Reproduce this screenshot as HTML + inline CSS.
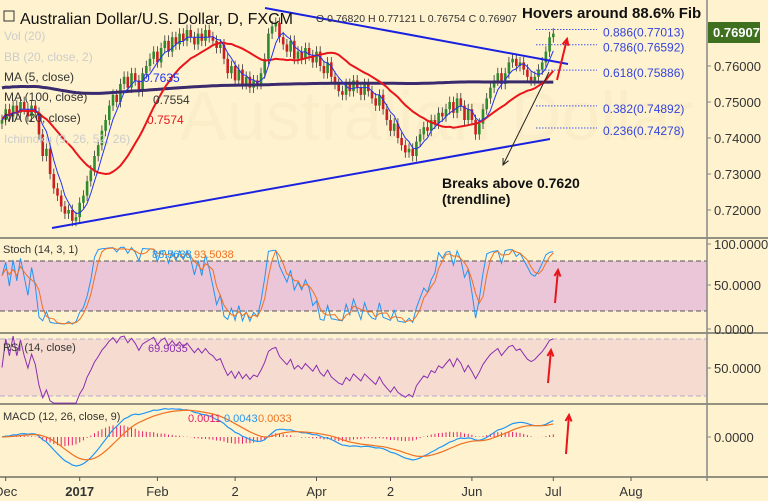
<!DOCTYPE html>
<html><head><meta charset="utf-8"><style>
body{margin:0;background:#fff3cf;}
svg{display:block;font-family:"Liberation Sans",sans-serif;}
</style></head><body>
<svg id="c" width="768" height="501" viewBox="0 0 768 501" xmlns="http://www.w3.org/2000/svg">
<rect width="768" height="501" fill="#fff3cf"/>
<text x="180" y="140" font-size="70" fill="#fbedc8">Australian Dollar</text>
<g id="bands"></g>
<g id="marks"></g>
<g id="anno"></g>
</svg>
<script>
const closes=[0.745,0.748,0.746,0.749,0.747,0.750,0.748,0.746,0.749,0.747,
0.741,0.735,0.737,0.730,0.726,0.724,0.721,0.719,0.720,0.717,
0.718,0.722,0.724,0.728,0.731,0.735,0.738,0.742,0.745,0.749,
0.752,0.750,0.755,0.757,0.754,0.758,0.756,0.753,0.758,0.760,
0.762,0.764,0.761,0.765,0.767,0.764,0.768,0.766,0.769,0.767,
0.770,0.768,0.766,0.769,0.767,0.770,0.768,0.767,0.765,0.766,
0.762,0.758,0.760,0.756,0.759,0.755,0.757,0.754,0.756,0.755,
0.758,0.762,0.769,0.771,0.772,0.768,0.766,0.764,0.767,0.762,
0.764,0.762,0.765,0.763,0.761,0.764,0.760,0.758,0.761,0.757,
0.755,0.753,0.752,0.755,0.753,0.756,0.754,0.752,0.755,0.753,
0.751,0.749,0.752,0.748,0.745,0.742,0.744,0.740,0.738,0.736,
0.737,0.735,0.739,0.741,0.743,0.742,0.745,0.744,0.747,0.746,
0.748,0.750,0.747,0.751,0.749,0.745,0.748,0.745,0.741,0.744,
0.748,0.751,0.754,0.756,0.758,0.755,0.758,0.761,0.762,0.760,
0.761,0.759,0.757,0.756,0.757,0.759,0.761,0.764,0.768,0.769];
const priceTicks=[0.76,0.75,0.74,0.73,0.72];
const priceTickLabels=["0.76000","0.75000","0.74000","0.73000","0.72000"];
const fibLevels=[0.886,0.786,0.618,0.382,0.236];
const fibPrices=["0.77013","0.76592","0.75886","0.74892","0.74278"];
const dateLabels=["Dec","2017","Feb","2","Apr","2","Jun","Jul","Aug"];
const dateIdx=[1,21,42,63,85,105,127,149,170];
const lastClose=0.76907;

const NS="http://www.w3.org/2000/svg";
const svg=document.getElementById('c');
const G={bands:document.getElementById('bands'),marks:document.getElementById('marks'),anno:document.getElementById('anno')};
function mk(tag,attrs,parent){const e=document.createElementNS(NS,tag);for(const k in attrs)e.setAttribute(k,attrs[k]);(parent||G.marks).appendChild(e);return e;}
const xS=i=>2+i*3.7;
const yP=p=>66-(p-0.76)*3600;
const yStoch=v=>327.7-v*0.8333;
const yRsi=v=>367.5-(v-50)*1.425;

let r;
r=mk('rect',{x:0,y:261,width:707,height:50,fill:'#ebc6d8'},G.bands);


r=mk('rect',{x:0,y:339,width:707,height:57,fill:'#f6dcd0'},G.bands);


[[261,'#555'],[311,'#555'],[339,'#b8a8c8'],[396,'#b8a8c8']].forEach(a=>{const l=mk('line',{x1:0,x2:707,y1:a[0],y2:a[0],stroke:a[1],'stroke-dasharray':'5,3','stroke-width':1},G.bands);});
[238,333,404,477].forEach(y=>{const l=mk('line',{x1:0,x2:768,y1:y,y2:y,stroke:'#555','stroke-width':1.2},G.bands);});
r=mk('line',{x1:707,x2:707,y1:0,y2:481,stroke:'#888','stroke-width':1.5},G.bands);



const N=closes.length;
const opens=closes.map((c,i)=>i?closes[i-1]:c-0.001);
for(let i=0;i<N;i++){
 const o=opens[i],c=closes[i],x=xS(i),up=c>=o;
 const hi=Math.max(o,c)+0.0015,lo=Math.min(o,c)-0.0015;
 const w=mk('line',{x1:x,x2:x,y1:yP(hi),y2:yP(lo),stroke:'#333','stroke-width':0.8});
 
 
 const b=mk('rect',{x:x-1.3,y:Math.min(yP(o),yP(c)),width:2.6,height:Math.max(1,Math.abs(yP(o)-yP(c))),fill:up?'#2e8b2e':'#cc1f1f'});
 
 
}
function sma(arr,n){return arr.map((_,i)=>{const s=arr.slice(Math.max(0,i-n+1),i+1);return s.reduce((a,b)=>a+b,0)/s.length;});}
function ema(arr,n){const k=2/(n+1);let e=arr[0];return arr.map(v=>e=v*k+e*(1-k));}
function poly(vals,yf,attrs,name){const d=vals.map((v,i)=>(i?'L':'M')+xS(i).toFixed(1)+','+yf(v).toFixed(1)).join('');const p=mk('path',Object.assign({d:d,fill:'none'},attrs));return p;}
const s100=sma(closes,100);
const ma100=closes.map((c,i)=>0.7555+(s100[i]-0.7555)*0.15);
poly(ma100,yP,{stroke:'#3a2a6e','stroke-width':3},'ma100-line');
poly(sma(closes,20),yP,{stroke:'#e8151a','stroke-width':2},'ma20-line');
poly(sma(closes,5),yP,{stroke:'#2233ee','stroke-width':1},'ma5-line');

const highs=closes.map((c,i)=>Math.max(c,opens[i])+0.0015),lows=closes.map((c,i)=>Math.min(c,opens[i])-0.0015);
const k=closes.map((c,i)=>{const s=Math.max(0,i-13);const hh=Math.max(...highs.slice(s,i+1)),ll=Math.min(...lows.slice(s,i+1));return Math.min(98,Math.max(2,(c-ll)/(hh-ll)*100));});
poly(k,yStoch,{stroke:'#2196f3','stroke-width':1},'stoch-k-line');
poly(sma(k,3),yStoch,{stroke:'#f07020','stroke-width':1},'stoch-d-line');
let ag=0,al=0;const rsi=closes.map((c,i)=>{if(!i)return 50;const d=c-closes[i-1];ag=(ag*13+Math.max(d,0))/14;al=(al*13+Math.max(-d,0))/14;return al===0?70:Math.max(25,Math.min(72,100-100/(1+ag/al)));});
poly(rsi,yRsi,{stroke:'#8a2fb0','stroke-width':1},'rsi-line');
const e12=ema(closes,12),e26=ema(closes,26);const macd=e12.map((v,i)=>v-e26[i]);const sig=ema(macd,9);
const mx=Math.max(...macd.map(Math.abs));const yM=v=>437-v/mx*29;
macd.forEach((v,i)=>{const h=v-sig[i];const l=mk('line',{x1:xS(i),x2:xS(i),y1:437,y2:437-Math.max(-12,Math.min(12,h/mx*29*0.8)),stroke:'#e8206a','stroke-width':1});});
poly(macd,yM,{stroke:'#2196f3','stroke-width':1.2},'macd-line');
poly(sig,yM,{stroke:'#f07020','stroke-width':1.2},'macd-signal-line');

function txt(x,y,s,attrs,name,inter){const t=mk('text',Object.assign({x:x,y:y},attrs),G.anno);t.textContent=s;return t;}
priceTicks.forEach((p,i)=>{mk('line',{x1:707,x2:711,y1:yP(p),y2:yP(p),stroke:'#888'},G.anno);txt(714,yP(p)+5,priceTickLabels[i],{'font-size':13,fill:'#333'},'price-tick-label');});
[[244,'100.0000'],[285,'50.0000'],[329,'0.0000'],[368,'50.0000'],[437,'0.0000']].forEach(a=>{mk('line',{x1:707,x2:711,y1:a[0],y2:a[0],stroke:'#888'},G.anno);txt(714,a[0]+5,a[1],{'font-size':13,fill:'#333'},'indicator-tick-label');});
dateLabels.forEach((s,i)=>{const x=xS(dateIdx[i]);mk('line',{x1:x,x2:x,y1:477,y2:481,stroke:'#555'},G.anno);txt(x,496,s,{'font-size':13,fill:'#333','text-anchor':'middle','font-weight':s==='2017'?'bold':'normal'},'x-tick-label');});
r=mk('rect',{x:708,y:22,width:52,height:21,fill:'#3e7020'},G.anno);


txt(713,37,lastClose.toFixed(5),{'font-size':13,fill:'#fff','font-weight':'bold'},'last-price-label');

[[265,8,568,64],[52,228,550,139]].forEach(a=>{const l=mk('line',{x1:a[0],y1:a[1],x2:a[2],y2:a[3],stroke:'#1a22e0','stroke-width':2},G.anno);});
fibLevels.forEach((f,i)=>{const y=yP(parseFloat(fibPrices[i]));const l=mk('line',{x1:536,x2:597,y1:y,y2:y,stroke:'#4455ee','stroke-dasharray':'1.5,1.5'},G.anno);txt(603,y+7,f.toFixed(3)+'('+fibPrices[i]+')',{'font-size':12,fill:'#3344dd'},'fib-label');});
function arrow(x1,y1,x2,y2,col,w,name){const l=mk('line',{x1,y1,x2,y2,stroke:col,'stroke-width':w},G.anno);const a=Math.atan2(y2-y1,x2-x1),h=7;const p=mk('path',{d:`M${x2-h*Math.cos(a-0.45)},${y2-h*Math.sin(a-0.45)}L${x2},${y2}L${x2-h*Math.cos(a+0.45)},${y2-h*Math.sin(a+0.45)}`,fill:'none',stroke:col,'stroke-width':w},G.anno);}
arrow(549,72,503,165,'#222',1,'breakout-arrow');
arrow(557,80,567,39,'#e8151a',2,'price-up-arrow');
arrow(555,303,558,270,'#e8151a',2,'stoch-up-arrow');
arrow(548,383,551,350,'#e8151a',2,'rsi-up-arrow');
arrow(566,454,569,415,'#e8151a',2,'macd-up-arrow');
txt(522,18,'Hovers around 88.6% Fib',{'font-size':15,'font-weight':'bold',fill:'#111'},'fib-annotation');
txt(442,188,'Breaks above 0.7620',{'font-size':14,'font-weight':'bold',fill:'#111'},'breakout-annotation');
txt(442,204,'(trendline)',{'font-size':14,'font-weight':'bold',fill:'#111'},'breakout-annotation-sub');

txt(20,24,'Australian Dollar/U.S. Dollar, D, FXCM',{'font-size':16,fill:'#111'},'chart-title');
r=mk('rect',{x:4,y:11,width:10,height:10,fill:'none',stroke:'#333'},G.anno);


txt(316,22,'O 0.76820 H 0.77121 L 0.76754 C 0.76907',{'font-size':10.5,fill:'#333'},'ohlc-legend');
[['Vol (20)',40],['BB (20, close, 2)',61],['MA (5, close)',81],['MA (100, close)',101],['MA (20, close)',122],['Ichimoku (9, 26, 52, 26)',143]].forEach(a=>txt(4,a[1],a[0],{'font-size':12,fill:a[1]>70&&a[1]<130?'#333':'#ccc'},'indicator-legend',true));
txt(143,82,'0.7635',{'font-size':12,fill:'#2233ee'},'ma5-value');
txt(153,104,'0.7554',{'font-size':12,fill:'#333'},'ma100-value');
txt(147,124,'0.7574',{'font-size':12,fill:'#e8151a'},'ma20-value');
txt(3,253,'Stoch (14, 3, 1)',{'font-size':11,fill:'#333'},'stoch-legend',true);
txt(152,258,'88.5638',{'font-size':11,fill:'#2196f3'},'stoch-k-value');
txt(194,258,'93.5038',{'font-size':11,fill:'#f07020'},'stoch-d-value');
txt(3,351,'RSI (14, close)',{'font-size':11,fill:'#333'},'rsi-legend',true);
txt(148,352,'69.9035',{'font-size':11,fill:'#8a2fb0'},'rsi-value');
txt(3,420,'MACD (12, 26, close, 9)',{'font-size':11,fill:'#333'},'macd-legend',true);
txt(188,422,'0.0011',{'font-size':11,fill:'#e8206a'},'macd-hist-value');
txt(224,422,'0.0043',{'font-size':11,fill:'#2196f3'},'macd-value');
txt(258,422,'0.0033',{'font-size':11,fill:'#f07020'},'macd-signal-value');
</script>
</body></html>
